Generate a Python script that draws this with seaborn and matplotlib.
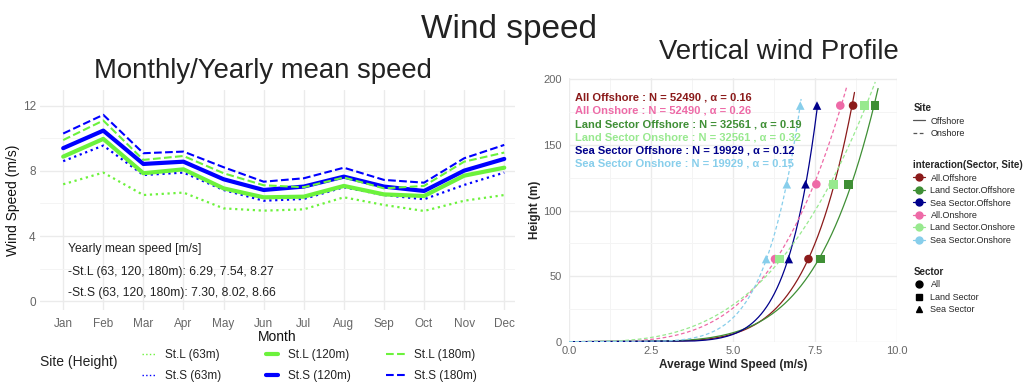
import numpy as np
import pandas as pd
import matplotlib
matplotlib.use("Agg")
import matplotlib.pyplot as plt
from matplotlib.lines import Line2D
import seaborn as sns

# monthly mean speed per site and height
months = ["Jan", "Feb", "Mar", "Apr", "May", "Jun", "Jul", "Aug", "Sep", "Oct", "Nov", "Dec"]
stl_63 = [7.18, 7.90, 6.52, 6.67, 5.70, 5.56, 5.64, 6.38, 5.91, 5.54, 6.17, 6.52]
stl_120 = [8.88, 9.97, 7.86, 8.10, 6.93, 6.38, 6.42, 7.08, 6.56, 6.46, 7.71, 8.20]
stl_180 = [9.90, 11.10, 8.68, 8.92, 7.86, 7.12, 7.00, 7.60, 6.93, 7.08, 8.57, 9.13]
sts_63 = [8.60, 9.56, 7.75, 7.90, 6.83, 6.17, 6.28, 7.00, 6.52, 6.26, 7.14, 7.90]
sts_120 = [9.40, 10.48, 8.43, 8.57, 7.49, 6.83, 7.04, 7.65, 7.04, 6.77, 8.02, 8.74]
sts_180 = [10.30, 11.45, 9.09, 9.19, 8.23, 7.34, 7.55, 8.20, 7.45, 7.28, 8.78, 9.60]

# vertical profile: mean speed at 63/120/180 m per group
heights = [63, 120, 180]
groups = ["All.Offshore", "Land Sector.Offshore", "Sea Sector.Offshore",
          "All.Onshore", "Land Sector.Onshore", "Sea Sector.Onshore"]
group_labels = ["All Offshore", "Land Sector Offshore", "Sea Sector Offshore",
                "All Onshore", "Land Sector Onshore", "Sea Sector Onshore"]
speed_all_off = [7.30, 8.05, 8.66]
speed_land_off = [7.67, 8.52, 9.33]
speed_sea_off = [6.70, 7.21, 7.56]
speed_all_on = [6.28, 7.54, 8.27]
speed_land_on = [6.42, 8.07, 9.00]
speed_sea_on = [6.01, 6.64, 7.05]
n_obs = [52490, 32561, 19929, 52490, 32561, 19929]
alphas = [0.16, 0.19, 0.12, 0.26, 0.32, 0.15]
curve_top = [190, 193, 181, 194, 198, 185]

GREEN = "#6cf23c"
BLUE = "#0000ff"
pal = {"All.Offshore": "#8b1a1a", "Land Sector.Offshore": "#3f8f35",
       "Sea Sector.Offshore": "#00008b", "All.Onshore": "#ee6aa7",
       "Land Sector.Onshore": "#98e98f", "Sea Sector.Onshore": "#87ceeb"}
markers = {"All": "o", "Land Sector": "s", "Sea Sector": "^"}

sns.set_theme(style="whitegrid")
plt.rcParams["font.family"] = ["Liberation Sans", "DejaVu Sans"]

fig = plt.figure(figsize=(10.24, 3.91), dpi=100)
fig.text(0.497, 0.925, "Wind speed", ha="center", va="center", fontsize=24, color="#222222")
fig.text(0.257, 0.818, "Monthly/Yearly mean speed", ha="center", va="center", fontsize=19.8, color="#222222")
fig.text(0.761, 0.866, "Vertical wind Profile", ha="center", va="center", fontsize=19.8, color="#222222")

# ---- left panel
ax1 = fig.add_axes([0.039, 0.207, 0.464, 0.563])
series = [("St.L (63m)", stl_63, GREEN, ":", 1.6), ("St.S (63m)", sts_63, BLUE, ":", 1.6),
          ("St.L (120m)", stl_120, GREEN, "-", 3.0), ("St.S (120m)", sts_120, BLUE, "-", 3.0),
          ("St.L (180m)", stl_180, GREEN, "--", 1.5), ("St.S (180m)", sts_180, BLUE, "--", 1.5)]
for name, vals, col, ls, lw in series:
    sns.lineplot(x=months, y=vals, ax=ax1, color=col, linestyle=ls, linewidth=lw, sort=False)
ax1.set_xlim(-0.58, 11.27)
ax1.set_ylim(-0.55, 12.98)
ax1.set_yticks([0, 4, 8, 12])
ax1.set_yticks([2, 6, 10], minor=True)
ax1.grid(which="major", color="#ebebeb", linewidth=1.0)
ax1.grid(which="minor", axis="y", color="#f4f4f4", linewidth=0.7)
for s in ax1.spines.values():
    s.set_visible(False)
ax1.tick_params(axis="x", length=0, labelsize=8.5, labelcolor="#666666", pad=6)
ax1.tick_params(axis="y", length=0, labelsize=8.5, labelcolor="#666666", pad=3)
ax1.set_xlabel("Month", fontsize=10, labelpad=0, color="#111111")
ax1.set_ylabel("Wind Speed (m/s)", fontsize=10, labelpad=2, color="#111111")
ax1.text(0.13, 3.2, "Yearly mean speed [m/s]", fontsize=8.7, color="#222222", va="center")
ax1.text(0.13, 1.78, "-St.L (63, 120, 180m): 6.29, 7.54, 8.27", fontsize=8.7, color="#222222", va="center")
ax1.text(0.13, 0.49, "-St.S (63, 120, 180m): 7.30, 8.02, 8.66", fontsize=8.7, color="#222222", va="center")

fig.text(0.039, 0.074, "Site (Height)", fontsize=10, color="#222222", va="center")
leg_handles = [Line2D([], [], color=c, linestyle=ls, linewidth=(1.0 if ls == ":" else lw))
               for _, _, c, ls, lw in series]
# one legend per column, like the ggplot key layout
col_x = [0.1385, 0.2595, 0.3765]
col_hl = [1.2, 1.0, 1.7]
col_pad = [0.75, 0.85, 0.75]
for j in range(3):
    lg = fig.legend(leg_handles[2 * j:2 * j + 2], [s[0] for s in series[2 * j:2 * j + 2]],
                    loc="upper left", bbox_to_anchor=(col_x[j], 0.107), frameon=False,
                    fontsize=8.5, borderpad=0, borderaxespad=0, handlelength=col_hl[j],
                    handletextpad=col_pad[j], labelspacing=0.78)
    for t in lg.get_texts():
        t.set_color("#222222")

# ---- right panel
ax2 = fig.add_axes([0.5557, 0.126, 0.3203, 0.6745])
speeds = [speed_all_off, speed_land_off, speed_sea_off, speed_all_on, speed_land_on, speed_sea_on]
rows = []
for g, sp in zip(groups, speeds):
    sector, site = g.split(".")
    for h, v in zip(heights, sp):
        rows.append({"group": g, "Sector": sector, "Site": site, "height": h, "speed": v})
pts = pd.DataFrame(rows)

# fitted power law curves v = a * z^alpha
for g, sp, al, top in zip(groups, speeds, alphas, curve_top):
    a = np.exp(np.mean(np.log(sp) - al * np.log(heights)))
    z = np.linspace(0, top, 300)
    sns.lineplot(x=a * z ** al, y=z, ax=ax2, color=pal[g], linewidth=0.9, sort=False,
                 linestyle="-" if g.endswith("Offshore") else (0, (3, 2)))

sns.scatterplot(data=pts, x="speed", y="height", hue="group", style="Sector", palette=pal,
                markers=markers, s=38, edgecolor="none", legend=False, ax=ax2, zorder=5)

ax2.set_xlim(0, 10)
ax2.set_ylim(0, 201)
ax2.set_xticks([0, 2.5, 5, 7.5, 10])
ax2.set_xticklabels(["0.0", "2.5", "5.0", "7.5", "10.0"])
ax2.set_xticks([1.25, 3.75, 6.25, 8.75], minor=True)
ax2.set_yticks([0, 50, 100, 150, 200])
ax2.set_yticks([25, 75, 125, 175], minor=True)
ax2.grid(which="major", color="#ebebeb", linewidth=1.0)
ax2.grid(which="minor", color="#f4f4f4", linewidth=0.7)
for s in ax2.spines.values():
    s.set_visible(False)
ax2.tick_params(axis="x", length=0, labelsize=8, labelcolor="#666666", pad=3)
ax2.tick_params(axis="y", length=0, labelsize=8, labelcolor="#666666", pad=5)
ax2.set_xlabel("Average Wind Speed (m/s)", fontsize=8.5, fontweight="bold", labelpad=2)
ax2.set_ylabel("Height (m)", fontsize=8.5, fontweight="bold", labelpad=2)

order = [0, 3, 1, 4, 2, 5]
for k, i in enumerate(order):
    ax2.text(0.18, 186 - k * 10.05, f"{group_labels[i]} : N = {n_obs[i]} , α = {alphas[i]:.2f}",
             fontsize=8.0, fontweight="bold", color=pal[groups[i]], va="center")

# ---- right legends
leg_kw = dict(loc="upper left", frameon=False, fontsize=6.5,
              title_fontproperties={"weight": "bold", "size": 7},
              handlelength=1.3, handletextpad=0.6, labelspacing=0.38)
site_h = [Line2D([], [], color="#555555", linewidth=0.9),
          Line2D([], [], color="#555555", linewidth=0.9, linestyle=(0, (3, 2)))]
lg_a = fig.legend(site_h, ["Offshore", "Onshore"], title="Site",
                  bbox_to_anchor=(0.884, 0.757), **leg_kw)
lg_a._legend_box.align = "left"

int_h = [Line2D([], [], color=pal[g], marker="o", markersize=5, linewidth=0.9) for g in groups]
lg_b = fig.legend(int_h, groups, title="interaction(Sector, Site)",
                  bbox_to_anchor=(0.884, 0.611), **leg_kw)
lg_b._legend_box.align = "left"

sec_h = [Line2D([], [], color="black", marker=markers[k], markersize=5, linewidth=0)
         for k in markers]
lg_c = fig.legend(sec_h, list(markers), title="Sector",
                  bbox_to_anchor=(0.884, 0.338), **leg_kw)
lg_c._legend_box.align = "left"

fig.savefig("out.png", dpi=100)
